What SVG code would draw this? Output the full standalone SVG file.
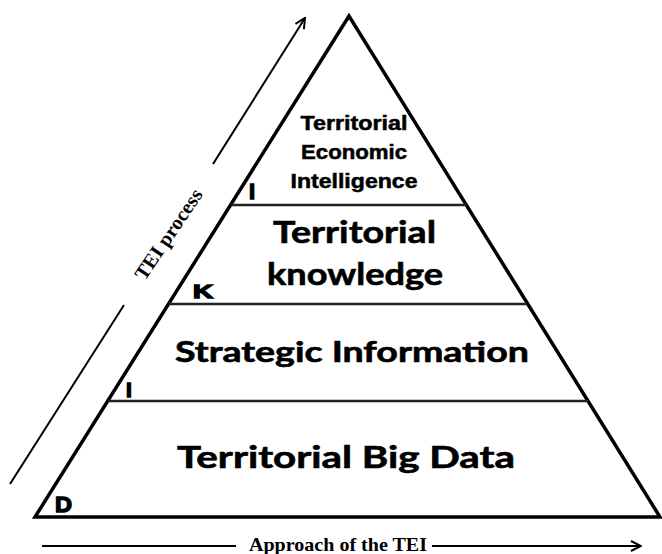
<svg xmlns="http://www.w3.org/2000/svg" width="662" height="554" viewBox="0 0 662 554">
<style>
.tri{fill:#fff;stroke:#000;stroke-width:3.5;stroke-linejoin:miter}
.div{stroke:#222;stroke-width:2.5}
.sm{font-family:"Liberation Sans",Arial,sans-serif;font-weight:bold;font-size:20px;fill:#000;stroke:#000;stroke-width:0.5;text-anchor:middle}
.big{font-family:Lato,"Open Sans",sans-serif;font-weight:bold;fill:#000;stroke:#000;stroke-width:0.6;text-anchor:middle}
.ltr{font-family:"Liberation Sans",Arial,sans-serif;font-weight:bold;fill:#000;stroke:#000;stroke-width:1.4}
.serif{font-family:"Liberation Serif","Times New Roman",serif;font-weight:bold;fill:#000}
.arr{stroke:#000;stroke-width:2;fill:none}
</style>
<defs>
<marker id="ah" viewBox="0 0 12 12" refX="11" refY="6" markerWidth="12" markerHeight="12" markerUnits="userSpaceOnUse" orient="auto">
<path d="M1,1 L11,6 L1,11" fill="none" stroke="#000" stroke-width="2"/>
</marker>
</defs>
<rect width="662" height="554" fill="#fff"/>
<polygon class="tri" points="349,16 35,517 660,517"/>
<g id="layer-tei">
<line class="div" x1="231" y1="205" x2="466" y2="205"/>
<text class="sm" x="354" y="130" textLength="107" lengthAdjust="spacingAndGlyphs">Territorial</text>
<text class="sm" x="354" y="159" textLength="106" lengthAdjust="spacingAndGlyphs">Economic</text>
<text class="sm" x="354" y="188" textLength="127" lengthAdjust="spacingAndGlyphs">Intelligence</text>
<text class="ltr" x="249" y="199" font-size="22">I</text>
</g>
<g id="layer-knowledge">
<line class="div" x1="169" y1="304" x2="527" y2="304"/>
<text class="big" x="354.5" y="243" font-size="30" textLength="163" lengthAdjust="spacingAndGlyphs">Territorial</text>
<text class="big" x="355" y="285" font-size="30" textLength="176" lengthAdjust="spacingAndGlyphs">knowledge</text>
<text class="ltr" x="193" y="298" font-size="19" textLength="20" lengthAdjust="spacingAndGlyphs">K</text>
</g>
<g id="layer-information">
<line class="div" x1="108" y1="401" x2="588" y2="401"/>
<text class="big" x="352" y="362" font-size="28" textLength="354" lengthAdjust="spacingAndGlyphs">Strategic Information</text>
<text class="ltr" x="126" y="397" font-size="21">I</text>
</g>
<g id="layer-data">
<text class="big" x="346" y="468" font-size="30" textLength="338" lengthAdjust="spacingAndGlyphs">Territorial Big Data</text>
<text class="ltr" x="55" y="512" font-size="22" textLength="17" lengthAdjust="spacingAndGlyphs">D</text>
</g>
<g id="connectors">
<line class="arr" x1="213" y1="164" x2="305" y2="18" marker-end="url(#ah)"/>
<line class="arr" x1="124" y1="305" x2="10" y2="484"/>
<line class="arr" x1="42" y1="546" x2="236" y2="546"/>
<line class="arr" x1="432" y1="546" x2="641" y2="546" marker-end="url(#ah)"/>
</g>
<g id="labels">
<text class="serif" font-size="20" text-anchor="middle" x="174" y="238" transform="rotate(-56 174 238)" textLength="105" lengthAdjust="spacingAndGlyphs">TEI process</text>
<text class="serif" font-size="19" text-anchor="middle" x="338" y="551" textLength="178" lengthAdjust="spacingAndGlyphs">Approach of the TEI</text>
</g>
</svg>
